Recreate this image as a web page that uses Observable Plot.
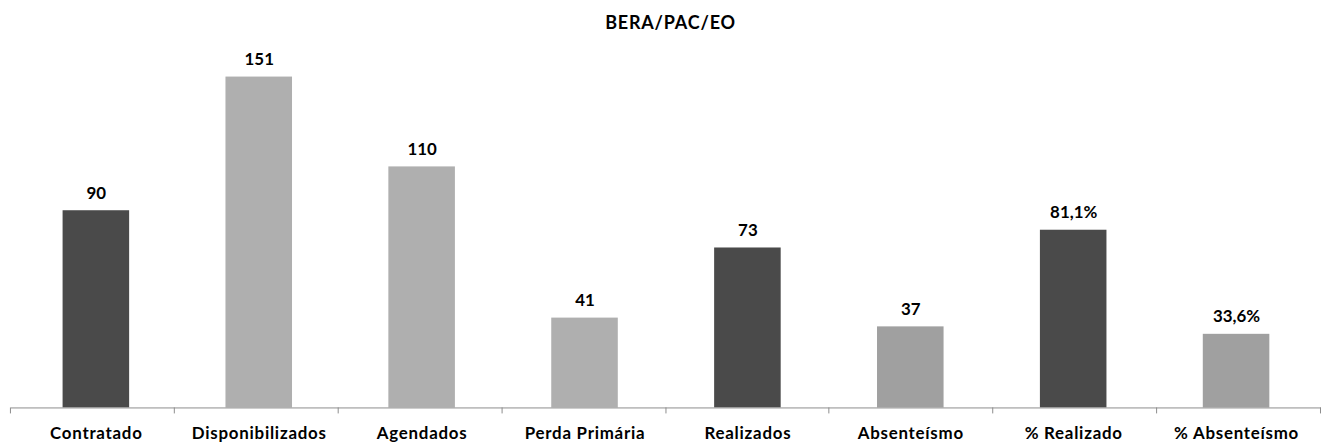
<!DOCTYPE html>
<html>
<head>
<meta charset="utf-8">
<script src="https://cdn.jsdelivr.net/npm/d3@7"></script>
<script src="https://cdn.jsdelivr.net/npm/@observablehq/plot@0.6"></script>
<style>
  html, body { margin: 0; padding: 0; background: #fff; overflow: hidden; width: 1321px; height: 446px; }
  #title { width: 1321px; height: 34px; box-sizing: border-box; padding: 12px 0 0 20px; line-height: 20px; text-align: center; font-family: Lato, sans-serif; font-weight: bold; font-size: 18px; letter-spacing: 0.8px; color: #000; }
  #chart svg { display: block; }
  #chart svg g[aria-label="x-axis tick label"] text { letter-spacing: 0.75px; }
</style>
</head>
<body>
<div id="title">BERA/PAC/EO</div>
<div id="chart"></div>
<script>
const categories = ["Contratado", "Disponibilizados", "Agendados", "Perda Primária", "Realizados", "Absenteísmo", "% Realizado", "% Absenteísmo"];
const values = [90, 151, 110, 41, 73, 37, 81.1, 33.6];
const valueLabels = ["90", "151", "110", "41", "73", "37", "81,1%", "33,6%"];
const groups = ["escuro", "claro", "claro", "claro", "escuro", "medio", "escuro", "medio"];

const data = categories.map((c, i) => ({category: c, value: values[i], label: valueLabels[i], group: groups[i]}));

const n = categories.length;
const pad = 0.594;

const boundaryTicks = (index, scales, vals, dims) => {
  const {width, marginLeft, marginRight} = dims;
  const step = (width - marginLeft - marginRight) / n;
  const y0 = scales.y(0);
  const g = d3.create("svg:g").attr("stroke", "#8c8c8c").attr("stroke-width", 1);
  for (let k = 0; k <= n; k++) {
    const x = Math.round(marginLeft + k * step) - 0.5;
    g.append("line").attr("x1", x).attr("x2", x).attr("y1", y0).attr("y2", y0 + 6);
  }
  return g.node();
};

const chart = Plot.plot({
  width: 1330,
  height: 412,
  marginLeft: 11,
  marginRight: 0,
  marginTop: 23,
  marginBottom: 36,
  style: {fontFamily: "Lato, sans-serif", background: "#fff"},
  x: {domain: categories, paddingInner: pad, paddingOuter: pad / 2, label: null},
  y: {domain: [0, 160], axis: null},
  color: {domain: ["escuro", "claro", "medio"], range: ["#4a4a4a", "#afafaf", "#a0a0a0"]},
  marks: [
    Plot.barY(data, {x: "category", y: "value", fill: "group"}),
    Plot.ruleY([0], {stroke: "#8c8c8c", strokeWidth: 1}),
    boundaryTicks,
    Plot.text(data, {x: "category", y: "value", text: "label", lineAnchor: "bottom", dy: -12, fontSize: 17, fontWeight: "bold", fill: "#000"}),
    Plot.axisX({tickSize: 0, tickPadding: 19, fontSize: 17, fontWeight: "bold", fill: "#000", label: null})
  ]
});
document.getElementById("chart").appendChild(chart);
</script>
</body>
</html>
